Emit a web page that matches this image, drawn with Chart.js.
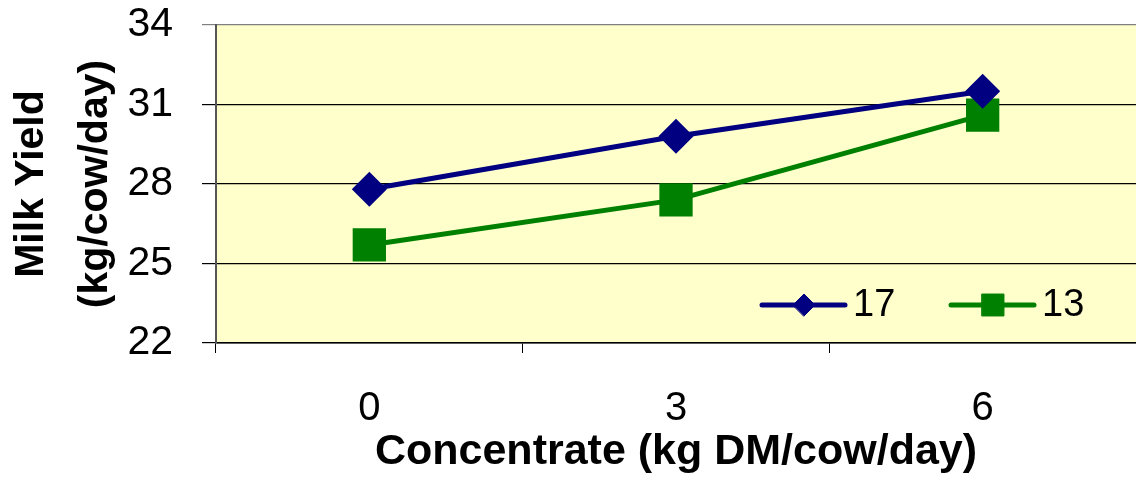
<!DOCTYPE html>
<html>
<head>
<meta charset="utf-8">
<script src="https://cdn.jsdelivr.net/npm/chart.js@4/dist/chart.umd.min.js"></script>
<style>
	html, body { margin: 0; padding: 0; background: #fff; }
	#wrap { width: 1136px; height: 478px; position: relative; }
</style>
</head>
<body>
<div id="wrap"><canvas id="milk-chart"></canvas></div>
<script>
( function () {
	'use strict';

	var categories = [ '0', '3', '6' ];
	var seriesNames = [ '17', '13' ];
	var series17 = [ 27.8, 29.8, 31.5 ];
	var series13 = [ 25.7, 27.4, 30.6 ];
	var yTicks = [ 22, 25, 28, 31, 34 ];

	var FONT = "'Liberation Sans', Arial, sans-serif";

	// yellow plot background
	var plotBg = {
		id: 'plotBg',
		beforeDraw: function ( chart ) {
			var a = chart.chartArea;
			var ctx = chart.ctx;
			ctx.save();
			ctx.fillStyle = '#FFFFCC';
			ctx.fillRect( a.left, a.top, a.right - a.left, a.bottom - a.top );
			ctx.restore();
		}
	};

	// legend drawn inside the plot, bottom right
	var innerLegend = {
		id: 'innerLegend',
		afterDraw: function ( chart ) {
			var ctx = chart.ctx;
			var y = 305;
			var items = [
				{ x: 762, ds: chart.data.datasets[0], r: 11 },
				{ x: 951, ds: chart.data.datasets[1], r: 15.5 }
			];
			ctx.save();
			items.forEach( function ( it ) {
				ctx.strokeStyle = it.ds.borderColor;
				ctx.lineWidth = 5;
				ctx.lineCap = 'round';
				ctx.beginPath();
				ctx.moveTo( it.x, y );
				ctx.lineTo( it.x + 83, y );
				ctx.stroke();
				ctx.fillStyle = it.ds.backgroundColor;
				ctx.lineWidth = 1;
				Chart.helpers.drawPoint( ctx, { pointStyle: it.ds.pointStyle, radius: it.r, rotation: 0, borderWidth: 1 }, it.x + 42, y );
				ctx.fillStyle = '#000';
				ctx.font = '38px ' + FONT;
				ctx.textAlign = 'left';
				ctx.textBaseline = 'middle';
				ctx.fillText( it.ds.label, it.x + 91, y + 1 );
			} );
			ctx.restore();
		}
	};

	new Chart( document.getElementById( 'milk-chart' ), {
		type: 'line',
		data: {
			labels: categories,
			datasets: [
				{
					label: seriesNames[0],
					data: series17,
					borderColor: '#000080',
					backgroundColor: '#000080',
					borderWidth: 5,
					pointStyle: 'rectRot',
					pointRadius: 14,
					pointHoverRadius: 14,
					tension: 0
				},
				{
					label: seriesNames[1],
					data: series13,
					borderColor: '#008000',
					backgroundColor: '#008000',
					borderWidth: 5,
					pointStyle: 'rect',
					pointRadius: 20,
					pointHoverRadius: 20,
					tension: 0
				}
			]
		},
		options: {
			responsive: true,
			maintainAspectRatio: false,
			animation: false,
			layout: {
				autoPadding: false,
				padding: { top: 25, right: 0, bottom: 0, left: 0 }
			},
			plugins: {
				legend: { display: false },
				tooltip: { enabled: false }
			},
			scales: {
				x: {
					offset: true,
					grid: {
						offset: true,
						drawOnChartArea: false,
						drawTicks: true,
						tickLength: 10,
						color: '#000'
					},
					border: { color: '#000', width: 1.5 },
					ticks: {
						color: '#000',
						padding: 32,
						font: { family: FONT, size: 40 }
					},
					title: {
						display: true,
						text: 'Concentrate (kg DM/cow/day)',
						color: '#000',
						padding: { top: 0, bottom: 0 },
						font: { family: FONT, size: 43, weight: 'bold' }
					},
					afterFit: function ( scale ) {
						scale.height = 135;
						scale.paddingLeft = 0;
						scale.paddingRight = 0;
					}
				},
				y: {
					min: 22,
					max: 34,
					afterBuildTicks: function ( scale ) {
						scale.ticks = yTicks.map( function ( v ) { return { value: v }; } );
					},
					grid: {
						drawTicks: true,
						tickLength: 14,
						color: function ( c ) {
							return c.tick && c.tick.value === 34 ? '#808080' : '#000';
						},
						lineWidth: 1.2
					},
					border: { color: '#555', width: 2 },
					ticks: {
						color: '#000',
						padding: 29,
						font: { family: FONT, size: 41 }
					},
					title: {
						display: true,
						text: [ 'Milk Yield', '(kg/cow/day)' ],
						color: '#000',
						padding: { top: 0, bottom: 0 },
						font: { family: FONT, size: 41, weight: 'bold', lineHeight: 1.55 }
					},
					afterFit: function ( scale ) {
						scale.width = 216;
						scale.paddingTop = 0;
						scale.paddingBottom = 0;
					}
				}
			}
		},
		plugins: [ plotBg, innerLegend ]
	} );
}() );
</script>
</body>
</html>
